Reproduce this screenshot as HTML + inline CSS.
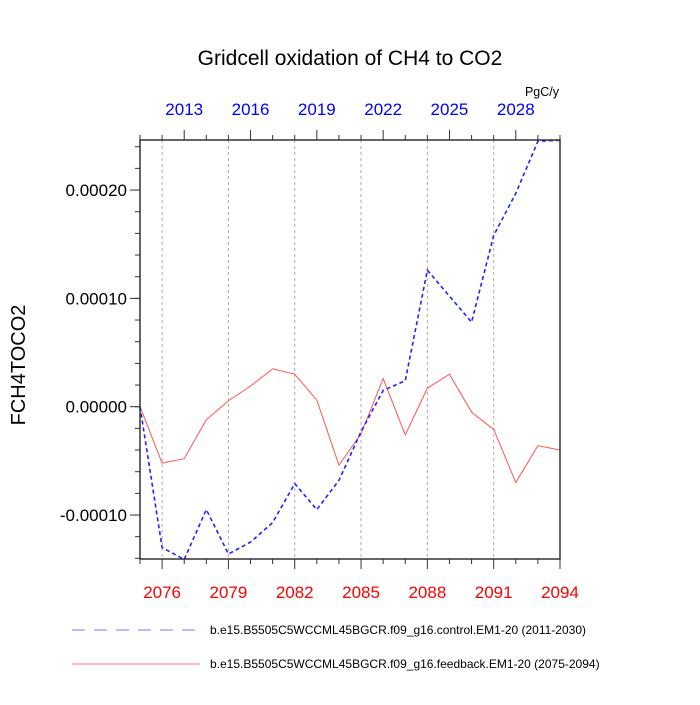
<!DOCTYPE html>
<html><head><meta charset="utf-8"><style>
body{margin:0;background:#fff;width:700px;height:700px;overflow:hidden}
svg text{font-family:"Liberation Sans",sans-serif}
</style></head><body>
<svg id="c" width="700" height="700" xmlns="http://www.w3.org/2000/svg">
<text x="350" y="65" font-size="21" text-anchor="middle">Gridcell oxidation of CH4 to CO2</text>
<text x="559" y="96" font-size="12.5" text-anchor="end">PgC/y</text>
<text transform="translate(25,365) rotate(-90)" font-size="20" text-anchor="middle">FCH4TOCO2</text>
<g id="g"></g>
<g>
<line x1="72" y1="630" x2="200" y2="630" stroke="#7777ff" stroke-width="1" stroke-dasharray="13,9"/>
<text x="210" y="634" font-size="12">b.e15.B5505C5WCCML45BGCR.f09_g16.control.EM1-20 (2011-2030)</text>
<line x1="72" y1="664" x2="200" y2="664" stroke="#ff7777" stroke-width="1"/>
<text x="210" y="668" font-size="12">b.e15.B5505C5WCCML45BGCR.f09_g16.feedback.EM1-20 (2075-2094)</text>
</g>
</svg>
<script>
const yearsBottom=[2075,2076,2077,2078,2079,2080,2081,2082,2083,2084,2085,2086,2087,2088,2089,2090,2091,2092,2093,2094];
const yearsTop=[2011,2012,2013,2014,2015,2016,2017,2018,2019,2020,2021,2022,2023,2024,2025,2026,2027,2028,2029,2030];
const controlVals=[0,-1.30,-1.41,-0.95,-1.36,-1.25,-1.07,-0.71,-0.95,-0.68,-0.23,0.15,0.24,1.26,1.02,0.78,1.58,1.97,2.45,2.46].map(v=>v*1e-4);
const feedbackVals=[0,-0.52,-0.48,-0.12,0.055,0.19,0.35,0.30,0.06,-0.54,-0.25,0.26,-0.26,0.17,0.30,-0.05,-0.21,-0.70,-0.36,-0.40].map(v=>v*1e-4);
const yTickVals=[-0.0001,0,0.0001,0.0002];
const yTickLabels=["-0.00010","0.00000","0.00010","0.00020"];
const L=140,R=560,T=140,B=559,yMin=-1.406e-4,yMax=2.462e-4;
const xb=y=>L+(y-2075)/19*(R-L);
const xt=y=>L+(y-2011)/19*(R-L);
const ys=v=>B-(v-yMin)/(yMax-yMin)*(B-T);
const g=document.getElementById('g');
const NS='http://www.w3.org/2000/svg';
function mk(t,a){const e=document.createElementNS(NS,t);for(const k in a)e.setAttribute(k,a[k]);g.appendChild(e);return e;}
yearsBottom.forEach((y,i)=>{if(i%3===1){const e=mk('line',{x1:xb(y),x2:xb(y),y1:T,y2:B,stroke:'#aaa','stroke-width':1,'stroke-dasharray':'3,3'});

}});
function series(vals,xs,color,dash,name){const p=mk('polyline',{points:vals.map((v,i)=>xs[i]+','+ys(v)).join(' '),fill:'none',stroke:color,'stroke-width':dash?1.6:1,'stroke-dasharray':dash||'none'});

}
series(feedbackVals,yearsBottom.map(xb),'#ff5555',null,'feedback-line');
series(controlVals,yearsTop.map(xt),'#2222ff','4,3','control-line');
const fr=mk('rect',{x:L,y:T,width:R-L,height:B-T,fill:'none',stroke:'#333','stroke-width':1.5});


yearsBottom.forEach((y,i)=>{const maj=i%3===1;const t=mk('line',{x1:xb(y),x2:xb(y),y1:B,y2:B+(maj?10:5),stroke:'#333','stroke-width':1});


if(maj||i===19){const l=mk('text',{x:xb(y),y:598,'font-size':17,fill:'red','text-anchor':'middle'});l.textContent=y;

}});
yearsTop.forEach((y,i)=>{const maj=i%3===2;const t=mk('line',{x1:xt(y),x2:xt(y),y1:T,y2:T-(maj?10:5),stroke:'#333','stroke-width':1});


if(maj){const l=mk('text',{x:xt(y),y:115,'font-size':17,fill:'blue','text-anchor':'middle'});l.textContent=y;

}});
for(let k=-7;k<=12;k++){const v=k*2e-5;const yy=ys(v);if(yy<T-0.5||yy>B+0.5)continue;const t=mk('line',{x1:L,x2:L-5,y1:yy,y2:yy,stroke:'#333','stroke-width':1});

}
yTickVals.forEach((v,i)=>{const t=mk('line',{x1:L,x2:L-10,y1:ys(v),y2:ys(v),stroke:'#333','stroke-width':1});


const l=mk('text',{x:127,y:ys(v)+6,'font-size':17,'text-anchor':'end'});l.textContent=yTickLabels[i];

});
</script>
</body></html>
